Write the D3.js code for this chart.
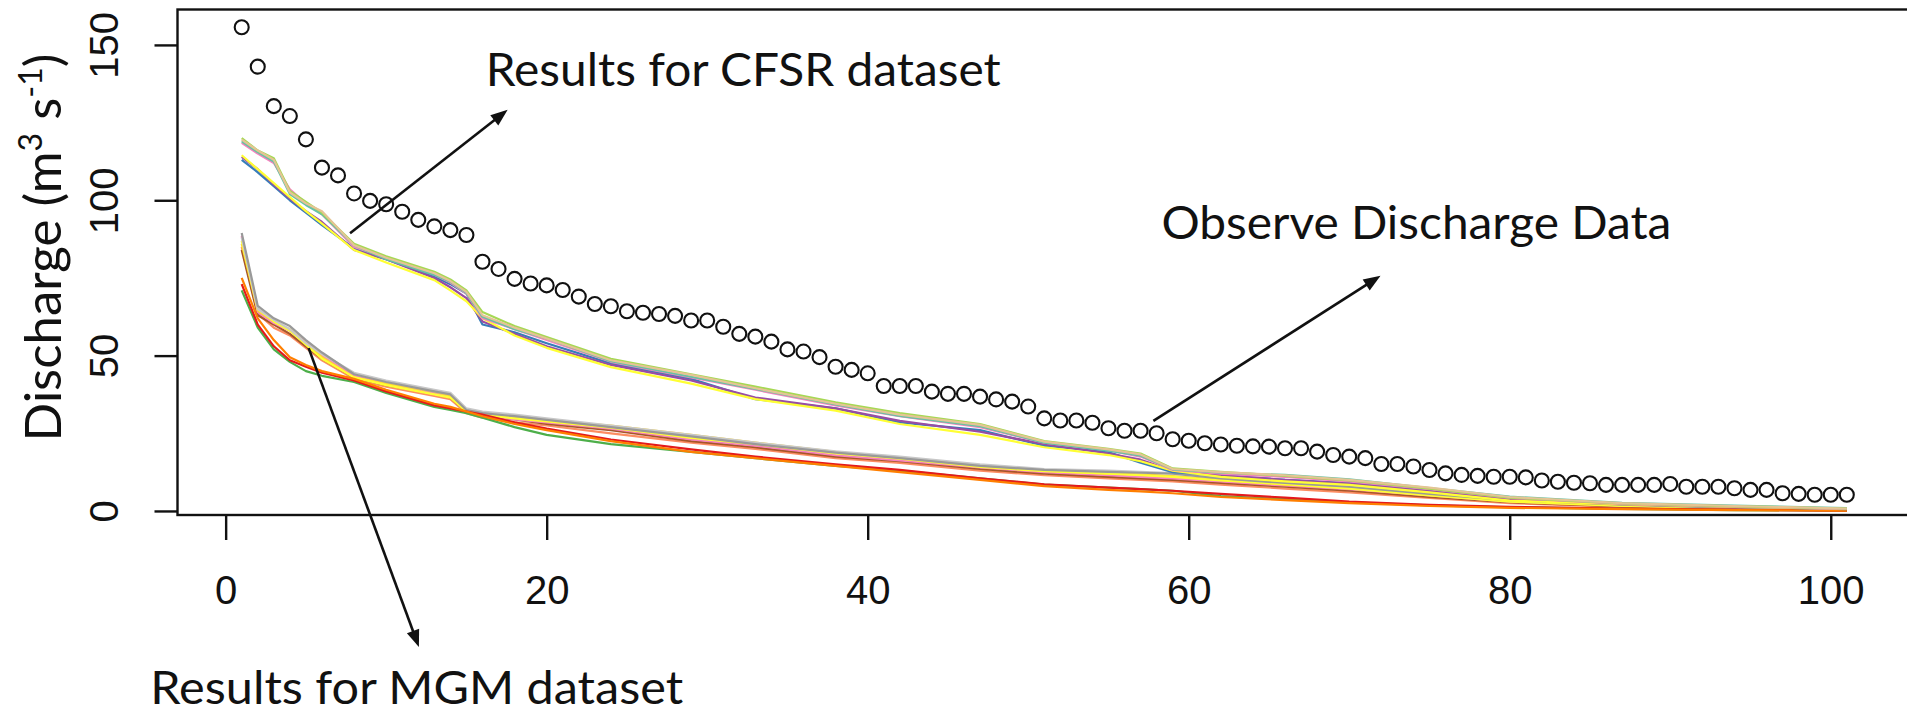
<!DOCTYPE html>
<html>
<head>
<meta charset="utf-8">
<script src="https://cdn.jsdelivr.net/npm/d3@7"></script>
<style>
  html, body { margin: 0; padding: 0; background: #fff; }
  svg { display: block; }
</style>
</head>
<body>
<svg id="chart"></svg>
<script>
// observed discharge, ranked (one value per rank 1..101)
const obsQ = [155.7,143.0,130.3,127.1,119.6,110.5,108.0,102.2,99.8,98.7,
  96.3,93.7,91.6,90.4,88.8,80.2,77.9,74.7,73.2,72.6,
  71.1,69.0,66.6,65.9,64.3,63.8,63.4,62.8,61.3,61.3,
  59.3,57.0,56.1,54.5,52.0,51.3,49.5,46.4,45.4,44.3,
  40.2,40.2,40.2,38.4,37.7,37.7,36.8,35.9,35.2,33.6,
  29.8,29.1,29.1,28.4,26.6,25.8,25.8,25.0,23.1,22.6,
  21.8,21.4,21.0,20.8,20.7,20.2,20.2,19.1,18.0,17.5,
  17.0,15.1,15.1,14.3,13.2,12.1,11.6,11.3,11.0,11.0,
  10.8,9.8,9.4,9.1,8.9,8.4,8.4,8.4,8.4,8.7,
  7.8,7.8,7.8,7.3,6.8,6.8,5.7,5.5,5.2,5.2,5.2];

// ranks where the simulated curves were read
const simX = [1,2,3,4,5,6,8,10,13,14,15,16,18,20,24,29,33,38,42,47,51,55,57,59,62,66,70,75,80,87,94,101];

// CFSR runs
const cfsrTan    = [119.5,116,113,102.5,99,96.5,85.5,81.5,76.5,74,70.5,63,59,55.5,48.5,43.8,39.5,34.5,31,27.7,22.3,19.8,18.2,13.5,12.5,11.5,10,7.5,4.5,2.5,1.6,0.8];
const cfsrGreen  = [120,116,113.5,103,99.5,96,86,82,77,74.5,71,64,59.5,56,49,44,40,35,31.5,28,22.5,20,18.5,13.7,12.6,11.3,9.8,7.2,4.3,2.4,1.5,0.8];
const cfsrPink   = [118.5,115,112,103.5,99,95.5,85,81.5,76,73.5,70,62,58.5,55,48,43,39,34,30.5,27,22,19.5,17.5,13.2,12,11,9.5,7,4.2,2.3,1.4,0.7];
const cfsrTeal   = [119,115.5,112.5,102,98.5,95.5,85.5,81,76,73.8,70.2,62.5,58.5,55.5,48.2,43.2,39.3,34.3,30.6,27.3,22,19.4,17.8,13.4,12.3,11.6,10.2,7.4,4.6,2.6,1.7,0.9];
const cfsrBlue   = [113,109,104.5,100,96,92,84.5,81,75.5,73,70,60,57.5,54,47.5,42.5,36,33,28.5,26,21,19,15.5,12.5,11.5,10,9,6.5,3.8,2.3,1.4,0.6];
const cfsrPurple = [114,110,105,100.5,96.5,93,84,81,75,72,68.5,61,57,53,47,42,36.5,33,29,25.5,21.5,18.5,16.5,13,11.5,10,8.8,6.3,3.6,2.2,1.3,0.7];
const cfsrYellow = [114.5,110,105.5,101,96.5,92.5,84,80,74.3,71,67.5,62,56.5,52.5,46.3,41,36,32.3,28,24.5,20.5,18,16,13,11,9.5,8.4,6,3.3,2.2,1.3,0.7];

// MGM runs
const mgmGray    = [89.5,66,62,59.5,55,51,44,41.5,38.5,37.5,32.5,31.5,30.5,29.3,27,24,21.5,18.8,17,14.5,13.2,12.6,12.3,12,10.5,9,7.8,5.5,3.5,2,1,0.3];
const mgmSilver  = [88,65,61.5,58.5,54,50.5,44.5,42,39,38,33,32,31,29.8,27.5,24.5,22,19.2,17.5,15,13.5,13,12.6,12.2,11,9.2,8,5.8,3.8,2.2,1.2,0.4];
const mgmPink    = [88.5,64,60.5,58,54.5,50,43.5,41,38,37,32,31,29.5,28.5,26.5,23,21,18,16.3,14,12.5,11.5,11,10.5,9.5,8.2,7,5,3,1.7,0.8,0.2];
const mgmBrown   = [84,63,60,57,53,49,43,40.5,38,36.5,32,30.5,29.5,28,26,22.5,20.5,17.5,16,13.5,12,11,10.5,10,9,7.8,6.5,4.5,2.8,1.5,0.7,0.2];
const mgmSalmon  = [85,63.5,59,56.5,52.5,48.5,42.5,40,37,36,31.5,30,28.5,27.5,25,22,20,17,15.5,13,11.5,10.5,10,9.5,8.5,7.2,6,4.2,2.5,1.3,0.6,0.1];
const mgmGold    = [86,64.5,61,58.5,54,49.5,43,41,38.5,37,32.5,31.5,30,29,27.5,24.5,22,19,17,14.5,13,12,11.8,11.2,10,8.5,7.5,5.2,3.2,1.8,0.9,0.3];
const mgmYellow  = [87,65,61,58,53.5,49,43,40.5,37.5,36.5,32,31,29.8,28.8,26.8,23.5,21.5,18.5,16.8,14.2,12.8,12,11.5,11,9.8,8.6,7.2,5,3,1.6,0.8,0.2];
const mgmOrange  = [75,62,55,49.5,47,45,42.5,39,34.5,33.5,32,30.5,28,26,22.5,19,17,14.5,12.5,10,8,6.8,6.3,5.7,4.5,3.5,2.5,1.6,1,0.6,0.3,0.1];
const mgmRed     = [73,60,53,48.5,46.4,44.5,42,38.5,34,33,32,31,28.5,26.5,23,19.8,17.5,15,13.2,10.5,8.6,7.5,7,6.5,5.5,4.3,3,2,1.3,0.8,0.4,0.1];
const mgmGreen   = [71,59,52,48,45,43.5,41.5,38,33.5,32.5,31.5,30,27,24.5,21.5,19,17,14.5,13,10.5,8.5,7.5,7,6.5,4.8,3.8,2.8,1.8,1.2,0.7,0.3,0.1];

const xTicks = [0, 20, 40, 60, 80, 100];
const yTicks = [0, 50, 100, 150];

const simSeries = [
  {values: mgmSalmon, color: '#fc8d62'},
  {values: mgmBrown,  color: '#a65628'},
  {values: mgmPink,   color: '#f781bf'},
  {values: mgmGold,   color: '#ffd92f'},
  {values: mgmYellow, color: '#ffff33'},
  {values: mgmSilver, color: '#c8c8c8'},
  {values: mgmGray,   color: '#999999'},
  {values: mgmGreen,  color: '#4daf4a'},
  {values: mgmRed,    color: '#e41a1c'},
  {values: mgmOrange, color: '#ff7f00'},
  {values: cfsrBlue,  color: '#377eb8'},
  {values: cfsrPurple,color: '#984ea3'},
  {values: cfsrYellow,color: '#ffff33'},
  {values: cfsrPink,  color: '#f781bf'},
  {values: cfsrTeal,  color: '#66c2a5'},
  {values: cfsrGreen, color: '#a6d854'},
  {values: cfsrTan,   color: '#e5c494'},
];

// annotations, given in data units (rank, discharge)
const notes = [
  {text: 'Results for CFSR dataset', x: 16.2, y: 136.8, len: 515},
  {text: 'Observe Discharge Data',   x: 58.3, y: 87.5,  len: 510},
  {text: 'Results for MGM dataset',  x: -4.7, y: -62.0, len: 533},
];
const arrows = [
  {from: [7.75, 89.4], to: [17.57, 129.1]},
  {from: [5.17, 52.4], to: [12.04, -43.8]},
  {from: [57.8, 29.0], to: [71.95, 75.7]},
];

const W = 1907, H = 713;
const svg = d3.select('#chart').attr('width', W).attr('height', H);

const x = d3.scaleLinear().domain([-3, 105]).range([177.5, 1911]);
const y = d3.scaleLinear().domain([-1.3, 161.4]).range([515, 9.5]);

const ink = '#111';
const tickFont = '"Liberation Sans", Arial, sans-serif';
const noteFont = 'Lato, "Open Sans", sans-serif';

// simulated curves
const line = d3.line().x(d => x(d[0])).y(d => y(d[1]));
svg.append('g').attr('class', 'sims')
  .selectAll('path').data(simSeries)
  .join('path')
  .attr('d', d => line(simX.map((r, i) => [r, d.values[i]])))
  .attr('fill', 'none')
  .attr('stroke', d => d.color)
  .attr('stroke-width', 2.2)
  .attr('stroke-linejoin', 'round');

// observed points
svg.append('g').attr('class', 'obs')
  .selectAll('circle').data(obsQ)
  .join('circle')
  .attr('cx', (d, i) => x(i + 1))
  .attr('cy', d => y(d))
  .attr('r', 7)
  .attr('fill', 'none')
  .attr('stroke', ink)
  .attr('stroke-width', 2.1);

// frame
svg.append('rect')
  .attr('x', x(-3)).attr('y', y(161.4))
  .attr('width', x(105) - x(-3)).attr('height', y(-1.3) - y(161.4))
  .attr('fill', 'none').attr('stroke', ink).attr('stroke-width', 2.4);

// axes
const gx = svg.append('g').attr('transform', `translate(0,${y(-1.3)})`)
  .call(d3.axisBottom(x).tickValues(xTicks).tickSize(25).tickPadding(36).tickSizeOuter(0));
gx.select('.domain').remove();
gx.selectAll('line').attr('stroke', ink).attr('stroke-width', 2.4);
gx.selectAll('text').attr('font-family', tickFont).attr('font-size', 40).attr('fill', ink);

const gy = svg.append('g').attr('transform', `translate(${x(-3)},0)`)
  .call(d3.axisLeft(y).tickValues(yTicks).tickSize(23).tickSizeOuter(0));
gy.select('.domain').remove();
gy.selectAll('line').attr('stroke', ink).attr('stroke-width', 2.4);
gy.selectAll('text')
  .attr('font-family', tickFont).attr('font-size', 40).attr('fill', ink)
  .attr('x', null).attr('dy', null)
  .attr('text-anchor', 'middle')
  .attr('transform', 'translate(-59.5,0) rotate(-90)');

// y axis title
const yt = svg.append('text')
  .attr('transform', `translate(61,${(60 + 435) / 2}) rotate(-90)`)
  .attr('text-anchor', 'middle')
  .attr('font-family', noteFont).attr('font-size', 51).attr('fill', ink);
yt.append('tspan').text('Discharge (m');
yt.append('tspan').attr('font-size', 32).attr('dy', -19).text('3');
yt.append('tspan').attr('dy', 19).text(' s');
yt.append('tspan').attr('font-size', 32).attr('dy', -19).text('-1');
yt.append('tspan').attr('dy', 19).text(')');

// annotation text
svg.append('g').selectAll('text').data(notes)
  .join('text')
  .attr('x', d => x(d.x)).attr('y', d => y(d.y))
  .attr('font-family', noteFont).attr('font-size', 46).attr('fill', ink)
  .attr('textLength', d => d.len).attr('lengthAdjust', 'spacingAndGlyphs')
  .text(d => d.text);

// arrows
const head = 17, half = 6.5;
const ag = svg.append('g').selectAll('g').data(arrows).join('g');
ag.append('line')
  .attr('x1', d => x(d.from[0])).attr('y1', d => y(d.from[1]))
  .attr('x2', d => {
    const dx = x(d.to[0]) - x(d.from[0]), dy = y(d.to[1]) - y(d.from[1]);
    const l = Math.hypot(dx, dy);
    return x(d.to[0]) - dx / l * (head - 2);
  })
  .attr('y2', d => {
    const dx = x(d.to[0]) - x(d.from[0]), dy = y(d.to[1]) - y(d.from[1]);
    const l = Math.hypot(dx, dy);
    return y(d.to[1]) - dy / l * (head - 2);
  })
  .attr('stroke', ink).attr('stroke-width', 2.6);
ag.append('path')
  .attr('d', d => {
    const tx = x(d.to[0]), ty = y(d.to[1]);
    const dx = tx - x(d.from[0]), dy = ty - y(d.from[1]);
    const l = Math.hypot(dx, dy), ux = dx / l, uy = dy / l;
    const bx = tx - ux * head, by = ty - uy * head;
    return `M${tx},${ty}L${bx - uy * half},${by + ux * half}L${bx + uy * half},${by - ux * half}Z`;
  })
  .attr('fill', ink);
</script>
</body>
</html>
